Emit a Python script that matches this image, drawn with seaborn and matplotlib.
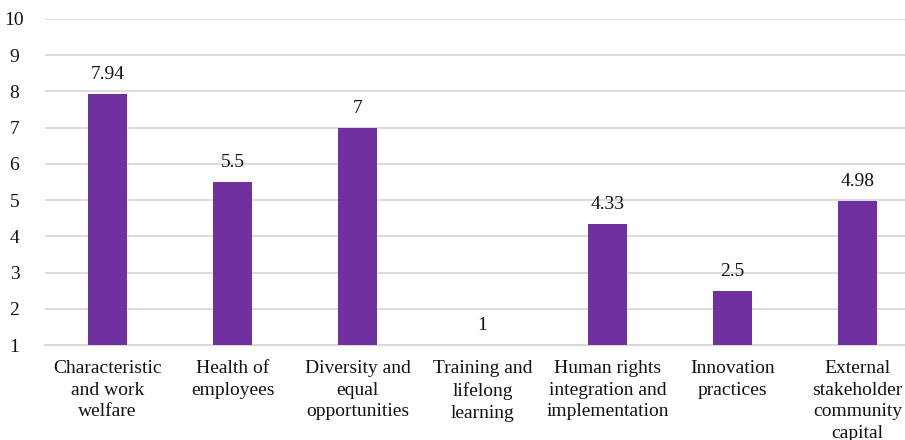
import matplotlib
matplotlib.use("Agg")
import matplotlib.pyplot as plt
import seaborn as sns
import pandas as pd

categories = [
    "Characteristic\nand work\nwelfare",
    "Health of\nemployees",
    "Diversity and\nequal\nopportunities",
    "Training and\nlifelong\nlearning",
    "Human rights\nintegration and\nimplementation",
    "Innovation\npractices",
    "External\nstakeholder\ncommunity\ncapital",
]
values = [7.94, 5.5, 7, 1, 4.33, 2.5, 4.98]
value_labels = ["7.94", "5.5", "7", "1", "4.33", "2.5", "4.98"]
y_ticks = list(range(1, 11))

sns.set_theme(style="white")
plt.rcParams["font.family"] = ["Liberation Serif", "DejaVu Serif"]

df = pd.DataFrame({"category": categories, "value": values})

fig = plt.figure(figsize=(9.05, 4.4), dpi=100)
ax = fig.add_axes([45 / 905, 95 / 440, 875 / 905, (345 - 19) / 440])

sns.barplot(data=df, x="category", y="value", color="#7030A0", width=0.31,
            saturation=1, ax=ax, zorder=3)
for p in ax.patches:
    p.set_edgecolor("none")
    # bars rise from the baseline of the value axis
    h = p.get_height()
    p.set_y(1)
    p.set_height(h - 1)

ax.set_ylim(1, 10)
ax.set_yticks(y_ticks)
ax.set_xlim(-0.5, len(categories) - 0.5)
ax.yaxis.grid(True, color="#d9d9d9", linewidth=1.3, zorder=0)
ax.xaxis.grid(False)
for s in ["top", "right", "left"]:
    ax.spines[s].set_visible(False)
ax.spines["bottom"].set_color("#d9d9d9")
ax.spines["bottom"].set_linewidth(1.5)

ax.tick_params(axis="y", labelsize=14, colors="#111111", length=0, pad=22)
ax.tick_params(axis="x", labelsize=14, colors="#111111", length=0, pad=11)
for lbl in ax.get_yticklabels():
    lbl.set_horizontalalignment("center")
for lbl in ax.get_xticklabels():
    lbl.set_linespacing(1.35)
ax.set_xlabel("")
ax.set_ylabel("")

for i, (v, t) in enumerate(zip(values, value_labels)):
    ax.annotate(t, xy=(i, v), xytext=(0, 8), textcoords="offset points",
                ha="center", va="bottom", fontsize=14, color="#111111")

fig.savefig("out.png", dpi=100)
